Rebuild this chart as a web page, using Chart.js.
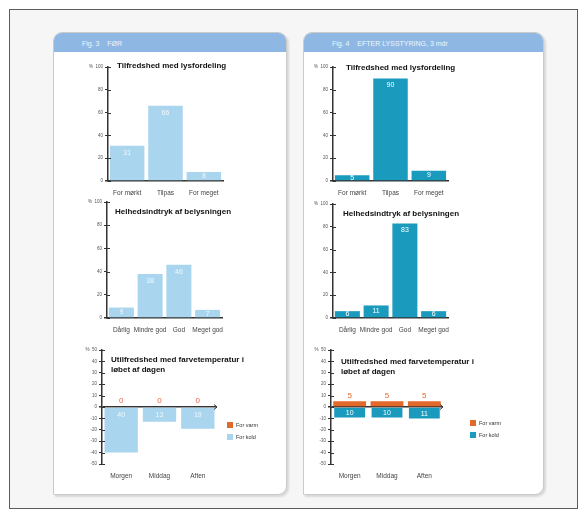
<!DOCTYPE html>
<html>
<head>
<meta charset="utf-8">
<script src="https://cdn.jsdelivr.net/npm/chart.js@4.4.1/dist/chart.umd.min.js"></script>
<style>
  html, body { margin: 0; padding: 0; background: #fff; }
  body { width: 587px; height: 518px; position: relative; overflow: hidden; font-family: "Liberation Sans", Arial, sans-serif; }
  .frame { position: absolute; left: 9px; top: 9px; width: 569px; height: 500px; border: 1px solid #5c5c5c; background: #f6f6f6; box-sizing: border-box; }
  .panel { position: absolute; top: 32px; height: 463px; background: #fff; border: 1px solid #cacaca; border-radius: 9px 9px 9px 0; box-shadow: 2px 2px 2px rgba(0,0,0,0.12); box-sizing: border-box; overflow: hidden; }
  .panel .hd { height: 19px; background: #8eb8e3; color: #eef5fc; font-size: 7px; line-height: 21px; padding-left: 28px; white-space: pre; }
  .box { position: absolute; }
</style>
</head>
<body>
<div class="frame"></div>
<div class="panel" style="left:53px;width:234px"><div class="hd">Fig. 3    FØR</div></div>
<div class="panel" style="left:303px;width:241px"><div class="hd">Fig. 4    EFTER LYSSTYRING, 3 mdr</div></div>

<div class="box" id="l1"><canvas></canvas></div>
<div class="box" id="r1"><canvas></canvas></div>
<div class="box" id="l2"><canvas></canvas></div>
<div class="box" id="r2"><canvas></canvas></div>
<div class="box" id="l3"><canvas></canvas></div>
<div class="box" id="r3"><canvas></canvas></div>

<script>
// categories
const CAT_LYS = ['For mørkt', 'Tilpas', 'For meget'];
const CAT_INDTRYK = ['Dårlig', 'Mindre god', 'God', 'Meget god'];
const CAT_DAG = ['Morgen', 'Middag', 'Aften'];

// % of answers, before / after
const LYS_FOR = [31, 66, 8];
const LYS_EFTER = [5, 90, 9];
const INDTRYK_FOR = [9, 38, 46, 7];
const INDTRYK_EFTER = [6, 11, 83, 6];
const VARM_FOR = [0, 0, 0];
const KOLD_FOR = [-40, -13, -19];
const VARM_EFTER = [5, 5, 5];
const KOLD_EFTER = [-10, -10, -11];

// tick labels
const TICKS_PCT = [0, 20, 40, 60, 80, 100];
const TICKS_DAG = [-50, -40, -30, -20, -10, 0, 10, 20, 30, 40, 50];

const FONT = '"Liberation Sans", Arial, sans-serif';
const LIGHT = '#a9d5ef', TEAL = '#1a9abd', ORANGE = '#e3692b', INK = '#333';
const YW = 28, XH = 18, PT = 10;

// bold heading inside the plot
const caption = {
  id: 'caption',
  afterDraw(chart, args, o) {
    if (!o.lines) return;
    const ctx = chart.ctx, a = chart.chartArea;
    ctx.save();
    ctx.font = 'bold 8px ' + FONT;
    ctx.fillStyle = '#111';
    ctx.textBaseline = 'middle';
    o.lines.forEach((t, i) => ctx.fillText(t, a.left + o.dx, a.top + o.dy + i * 10));
    ctx.restore();
  }
};

// y ticks cross the axis line, zero line ends in an arrow
const axisMarks = {
  id: 'axisMarks',
  afterDraw(chart) {
    const ctx = chart.ctx, y = chart.scales.y, a = chart.chartArea;
    ctx.save();
    ctx.strokeStyle = INK;
    ctx.lineWidth = 1;
    y.ticks.forEach(t => {
      const py = Math.round(y.getPixelForValue(t.value)) + 0.5;
      ctx.beginPath(); ctx.moveTo(a.left, py); ctx.lineTo(a.left + 3, py); ctx.stroke();
    });
    if (y.min < 0) {
      const py = y.getPixelForValue(0);
      ctx.beginPath();
      ctx.moveTo(a.right - 3, py - 2.5); ctx.lineTo(a.right, py); ctx.lineTo(a.right - 3, py + 2.5);
      ctx.stroke();
    }
    ctx.restore();
  }
};

// numbers on the bars
const valueLabels = {
  id: 'valueLabels',
  afterDatasetsDraw(chart) {
    const ctx = chart.ctx;
    ctx.save();
    ctx.textAlign = 'center';
    ctx.textBaseline = 'middle';
    chart.data.datasets.forEach((ds, i) => {
      const meta = chart.getDatasetMeta(i);
      meta.data.forEach((bar, j) => {
        const v = ds.data[j];
        const txt = String(Math.abs(v));
        if (ds.labelPos === 'above') {
          ctx.font = '8px ' + FONT;
          ctx.fillStyle = ds.labelColor;
          ctx.fillText(txt, bar.x, Math.min(bar.y, bar.base) - 6);
        } else {
          const top = Math.min(bar.y, bar.base), h = Math.abs(bar.base - bar.y);
          ctx.font = '7px ' + FONT;
          ctx.fillStyle = ds.labelColor || '#fff';
          ctx.fillText(txt, bar.x, h > 16 ? top + 7 : top + h / 2);
        }
      });
    });
    ctx.restore();
  }
};

// small key to the right of the plot
const key = {
  id: 'key',
  afterDraw(chart, args, o) {
    if (!o.show) return;
    const ctx = chart.ctx, a = chart.chartArea;
    ctx.save();
    ctx.font = '5.5px ' + FONT;
    ctx.textBaseline = 'middle';
    chart.data.datasets.forEach((ds, i) => {
      const x = a.right + o.dx, y = a.top + o.dy + i * 12;
      ctx.fillStyle = ds.backgroundColor;
      ctx.fillRect(x, y, 6, 6);
      ctx.fillStyle = INK;
      ctx.fillText(ds.label, x + 9, y + 3);
    });
    ctx.restore();
  }
};

function make(id, g, cats, datasets, yTicks, extra) {
  const box = document.getElementById(id);
  const left = g.ax - YW, top = g.top - PT;
  Object.assign(box.style, {
    left: left + 'px', top: top + 'px',
    width: (g.cw - left) + 'px', height: (g.bottom + XH - top) + 'px'
  });
  const zeroLine = yTicks[0] < 0;
  const ymin = yTicks[0], ymax = yTicks[yTicks.length - 1];
  new Chart(box.querySelector('canvas'), {
    type: 'bar',
    data: { labels: cats, datasets },
    options: {
      responsive: true, maintainAspectRatio: false, animation: false,
      layout: { padding: { top: PT, right: g.cw - g.right, left: 0, bottom: 0 } },
      datasets: { bar: { barPercentage: g.bp, categoryPercentage: 1 } },
      plugins: {
        legend: { display: false }, tooltip: { enabled: false },
        caption: { lines: extra.title, dx: extra.tdx, dy: extra.tdy },
        key: { show: !!extra.key, dx: extra.kdx, dy: extra.kdy }
      },
      scales: {
        x: {
          stacked: true,
          grid: { display: false, drawTicks: false },
          border: { display: !zeroLine, color: INK, width: 1.5 },
          ticks: { color: '#444', font: { family: FONT, size: 6.5 }, padding: 8, maxRotation: 0, autoSkip: false },
          afterFit: s => { s.height = XH; }
        },
        y: {
          stacked: true, min: ymin, max: ymax,
          afterBuildTicks: s => { s.ticks = yTicks.map(v => ({ value: v })); },
          ticks: {
            color: '#555', font: { family: FONT, size: 4.5 }, padding: 2,
            callback: v => v === ymax ? '%  ' + v : String(v)
          },
          grid: {
            drawOnChartArea: zeroLine, tickLength: 3, tickColor: INK,
            color: c => (zeroLine && c.tick && c.tick.value === 0) ? INK : 'rgba(0,0,0,0)',
            lineWidth: c => (c.tick && c.tick.value === 0) ? 1.5 : 1
          },
          border: { display: true, color: INK, width: 1.5 },
          afterFit: s => { s.width = YW; }
        }
      }
    },
    plugins: [valueLabels, axisMarks, caption, key]
  });
}

Chart.defaults.font.family = FONT;

make('l1', { ax: 108, top: 67, bottom: 181, right: 223, cw: 250, bp: 0.9 }, CAT_LYS,
  [{ label: 'Andel', data: LYS_FOR, backgroundColor: LIGHT, labelColor: 'rgba(255,255,255,0.85)' }],
  TICKS_PCT, { title: ['Tilfredshed med lysfordeling'], tdx: 9, tdy: -1 });

make('r1', { ax: 333, top: 67, bottom: 181, right: 448, cw: 480, bp: 0.9 }, CAT_LYS,
  [{ label: 'Andel', data: LYS_EFTER, backgroundColor: TEAL }],
  TICKS_PCT, { title: ['Tilfredshed med lysfordeling'], tdx: 13, tdy: 1 });

make('l2', { ax: 107, top: 202, bottom: 318, right: 222, cw: 250, bp: 0.87 }, CAT_INDTRYK,
  [{ label: 'Andel', data: INDTRYK_FOR, backgroundColor: LIGHT, labelColor: 'rgba(255,255,255,0.85)' }],
  TICKS_PCT, { title: ['Helhedsindtryk af belysningen'], tdx: 8, tdy: 10 });

make('r2', { ax: 333, top: 204, bottom: 318, right: 448, cw: 480, bp: 0.87 }, CAT_INDTRYK,
  [{ label: 'Andel', data: INDTRYK_EFTER, backgroundColor: TEAL }],
  TICKS_PCT, { title: ['Helhedsindtryk af belysningen'], tdx: 10, tdy: 10 });

make('l3', { ax: 102, top: 350, bottom: 464, right: 217, cw: 282, bp: 0.87 }, CAT_DAG,
  [{ label: 'For varm', data: VARM_FOR, backgroundColor: ORANGE, labelPos: 'above', labelColor: '#e8604a' },
   { label: 'For kold', data: KOLD_FOR, backgroundColor: LIGHT, labelColor: 'rgba(255,255,255,0.85)' }],
  TICKS_DAG, { title: ['Utilfredshed med farvetemperatur i', 'løbet af dagen'], tdx: 9, tdy: 10, key: true, kdx: 10, kdy: 72 });

make('r3', { ax: 331, top: 350, bottom: 464, right: 443, cw: 525, bp: 0.88 }, CAT_DAG,
  [{ label: 'For varm', data: VARM_EFTER, backgroundColor: ORANGE, labelPos: 'above', labelColor: ORANGE },
   { label: 'For kold', data: KOLD_EFTER, backgroundColor: TEAL, borderColor: 'rgba(255,255,255,0.55)', borderWidth: 1 }],
  TICKS_DAG, { title: ['Utilfredshed med farvetemperatur i', 'løbet af dagen'], tdx: 10, tdy: 12, key: true, kdx: 27, kdy: 70 });
</script>
</body>
</html>
